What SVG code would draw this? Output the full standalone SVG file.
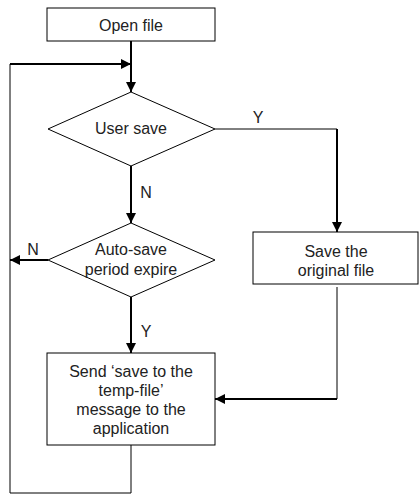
<svg xmlns="http://www.w3.org/2000/svg" width="419" height="495" viewBox="0 0 419 495">
<defs>
<marker id="ah" viewBox="0 0 10 10" refX="10" refY="5" markerWidth="10" markerHeight="10" markerUnits="userSpaceOnUse" orient="auto">
<path d="M0,0 L10,5 L0,10 Z" fill="#000"/>
</marker>
<style>
.shape{fill:#fff;stroke:#000;stroke-width:1}
.t{font-family:"Liberation Sans",Arial,sans-serif;font-size:16px;fill:#222;text-anchor:middle}
.thin{fill:none;stroke:#000;stroke-width:1}
.thick{fill:none;stroke:#000;stroke-width:2}
</style>
</defs>
<rect width="419" height="495" fill="#fff"/>
<g id="connectors">
<path class="thick" d="M131,41 V92" marker-end="url(#ah)"/>
<path class="thin" d="M131,445 V493 H10 V64"/>
<path class="thick" d="M10,64 H131" marker-end="url(#ah)"/>
<path class="thin" d="M215,129 H337"/>
<path class="thick" d="M337,129 V232" marker-end="url(#ah)"/>
<path class="thick" d="M131,166 V223" marker-end="url(#ah)"/>
<path class="thick" d="M48,260 H10" marker-end="url(#ah)"/>
<path class="thick" d="M131,297 V353" marker-end="url(#ah)"/>
<path class="thin" d="M337,287 V399"/>
<path class="thick" d="M337,399 H215" marker-end="url(#ah)"/>
<text class="t" x="258" y="123">Y</text>
<text class="t" x="146" y="198">N</text>
<text class="t" x="33" y="255">N</text>
<text class="t" x="146" y="337">Y</text>
</g>
<g id="open-file">
<rect class="shape" x="47" y="8" width="168" height="33"/>
<text class="t" x="131" y="31">Open file</text>
</g>
<g id="user-save">
<polygon class="shape" points="131,92 215,129 131,166 48,129"/>
<text class="t" x="131" y="134">User save</text>
</g>
<g id="auto-save">
<polygon class="shape" points="131,223 215,260 131,297 48,260"/>
<text class="t" x="131" y="255">Auto-save</text>
<text class="t" x="131" y="275">period expire</text>
</g>
<g id="save-original">
<rect class="shape" x="253" y="232" width="165" height="52"/>
<text class="t" x="336" y="257">Save the</text>
<text class="t" x="336" y="276">original file</text>
</g>
<g id="send-message">
<rect class="shape" x="47" y="353" width="168" height="92"/>
<text class="t" x="131" y="377">Send ‘save to the</text>
<text class="t" x="131" y="396">temp-file’</text>
<text class="t" x="131" y="415">message to the</text>
<text class="t" x="131" y="434">application</text>
</g>
</svg>
